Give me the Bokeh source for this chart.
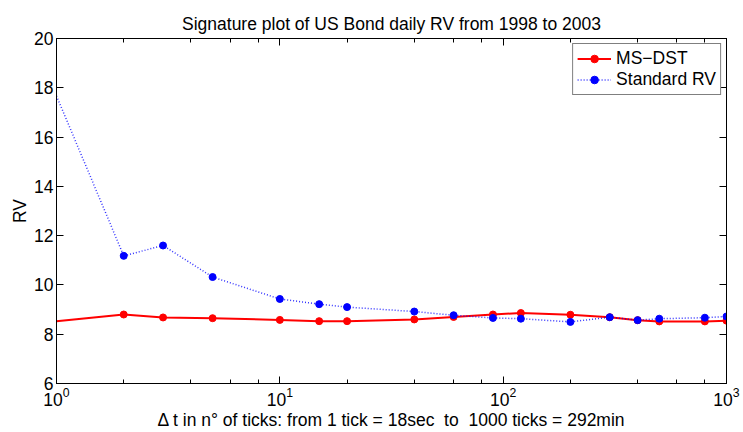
from bokeh.plotting import figure
from bokeh.models import (LogAxis, LinearAxis, Range1d, FixedTicker, LogTicker,
                          Legend, LegendItem, CustomJSTickFormatter)
from bokeh.embed import file_html
from bokeh.resources import INLINE

# Data
dt = [1, 2, 3, 5, 10, 15, 20, 40, 60, 90, 120, 200, 300, 400, 500, 800, 1000]
ms_dst = [8.53, 8.80, 8.68, 8.65, 8.58, 8.53, 8.53, 8.60, 8.70, 8.80, 8.86, 8.79, 8.69, 8.57, 8.52, 8.52, 8.55]
std_rv = [17.67, 11.18, 11.60, 10.32, 9.43, 9.22, 9.10, 8.92, 8.77, 8.66, 8.63, 8.50, 8.69, 8.57, 8.63, 8.67, 8.72]
y_ticks = [6, 8, 10, 12, 14, 16, 18, 20]

FONT = "Liberation Sans"
FS = "17.5px"

p = figure(x_axis_type="log", x_range=Range1d(1, 1000), y_range=Range1d(6, 20),
           width=743, height=432, min_border_left=56, min_border_right=17,
           min_border_top=38, min_border_bottom=49,
           output_backend="svg", toolbar_location=None,
           title="Signature plot of US Bond daily RV from 1998 to 2003")

p.title.align = "center"
p.title.text_font = FONT
p.title.text_font_size = FS
p.title.text_font_style = "normal"
p.title.text_color = "black"

p.grid.visible = False
p.outline_line_color = "black"
p.outline_line_width = 1
p.background_fill_color = "white"
p.border_fill_color = "white"

p.yaxis.ticker = FixedTicker(ticks=y_ticks)
p.xaxis.ticker = LogTicker()
p.xaxis.axis_label = "\u0394 t in n\u00b0 of ticks: from 1 tick = 18sec\u00a0\u00a0to\u00a0\u00a01000 ticks = 292min"
p.yaxis.axis_label = "RV"

for ax in (p.xaxis[0], p.yaxis[0]):
    ax.major_tick_in = 7
    ax.major_tick_out = 0
    ax.minor_tick_in = 4
    ax.minor_tick_out = 0
    ax.axis_line_color = "black"
    ax.major_tick_line_color = "black"
    ax.minor_tick_line_color = "black"
    ax.major_label_text_font = FONT
    ax.major_label_text_font_size = FS
    ax.major_label_text_color = "black"
    ax.axis_label_text_font = FONT
    ax.axis_label_text_font_size = FS
    ax.axis_label_text_font_style = "normal"
    ax.axis_label_text_color = "black"
p.xaxis.major_label_standoff = 3
p.xaxis.axis_label_standoff = 1
p.yaxis.major_label_standoff = 3
p.yaxis.axis_label_standoff = 1

blank = CustomJSTickFormatter(code="return ''")
top = LogAxis(ticker=LogTicker(), formatter=blank, major_tick_in=7, major_tick_out=0,
              minor_tick_in=4, minor_tick_out=0, major_label_standoff=0)
right = LinearAxis(ticker=FixedTicker(ticks=y_ticks), formatter=blank, major_tick_in=7,
                   major_tick_out=0, minor_tick_in=0, minor_tick_out=0, major_label_standoff=0)
p.add_layout(top, "above")
p.add_layout(right, "right")

l1 = p.line(dt, ms_dst, line_color="red", line_width=2)
s1 = p.scatter(dt[1:], ms_dst[1:], size=7, fill_color="red", line_color="red")
l2 = p.line(dt, std_rv, line_color="blue", line_width=1.5, line_dash="1 2", line_alpha=0.8)
s2 = p.scatter(dt[1:], std_rv[1:], size=7, fill_color="blue", line_color="blue")

legend = Legend(items=[LegendItem(label="MS\u2212DST", renderers=[l1, s1]),
                       LegendItem(label="Standard RV", renderers=[l2, s2])],
                location="top_right")
legend.label_text_font = FONT
legend.label_text_font_size = FS
legend.label_text_color = "black"
legend.border_line_color = "black"
legend.border_line_width = 1.5
legend.background_fill_alpha = 1
legend.margin = 5
legend.padding = 4
legend.spacing = 0
legend.glyph_width = 34
legend.label_standoff = 5
legend.label_height = 19
legend.glyph_height = 19
p.add_layout(legend)

open("out.html", "w").write(file_html(p, INLINE))
